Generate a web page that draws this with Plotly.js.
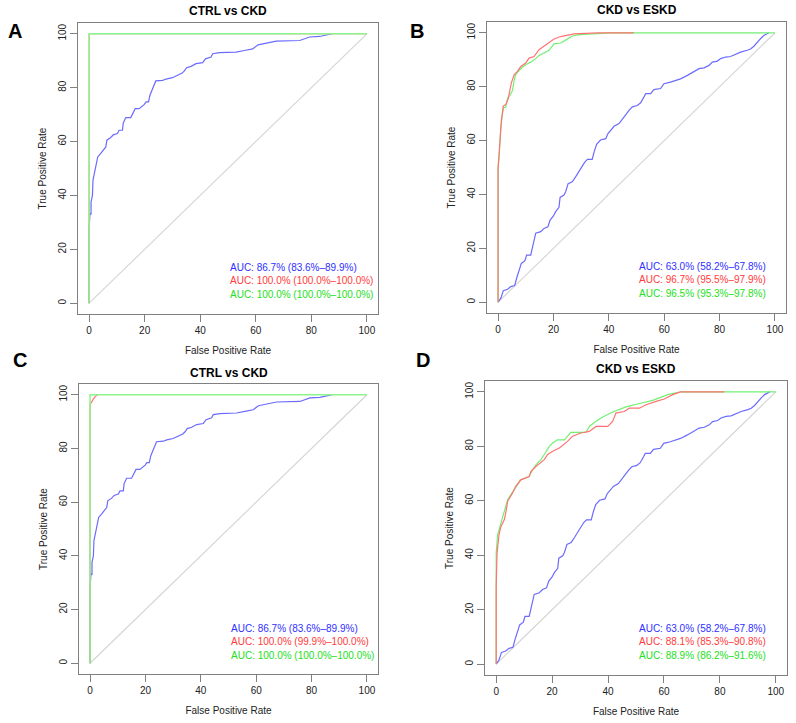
<!DOCTYPE html>
<html>
<head>
<meta charset="utf-8">
<script src="https://cdn.plot.ly/plotly-3.0.1.min.js"></script>
<style>html,body{margin:0;padding:0;background:#fff;}#chart{width:796px;height:723px;}</style>
</head>
<body>
<div id="chart"></div>
<script>
// ---------- DATA (in percent) ----------
const tickValues = [0, 20, 40, 60, 80, 100];
const tickLabels = ["0", "20", "40", "60", "80", "100"];
const panelTitles = ["CTRL vs CKD", "CKD vs ESKD", "CTRL vs CKD", "CKD vs ESKD"];
const panelLetters = ["A", "B", "C", "D"];
const xAxisTitle = "False Positive Rate";
const yAxisTitle = "True Positive Rate";

const diagX = [0, 100];
const diagY = [0, 100];

// CTRL vs CKD, blue model (panels A and C)
const fprCtrlBlue = [0,0,0.3,0.7,0.7,1.2,1.4,2,2.6,3.1,4.2,5,6,6.4,7.8,8.7,10.2,10.8,12,12.3,13.2,15,15.6,16.6,18,18.7,19.9,20.5,21.4,21.9,22.6,23.1,24,26.5,27.7,30,31.9,33.5,34.3,35.1,36.7,38.5,40.9,41.9,43.9,44.5,46.9,52.9,55.9,58.9,60.8,63.8,67.4,75.8,77.6,79.4,83,86,87.5];
const tprCtrlBlue = [0,27.4,33.3,33,37.6,40,45.7,48.8,50.6,54.3,55.6,56.8,58,60.5,61.5,62.5,63,64.2,64.2,66.9,68.9,68.9,70.4,72.2,72.2,72.8,73.8,74.7,74.7,77.2,79,80.5,82.5,82.7,83.2,83.7,84.6,85.4,86.2,87.4,87.9,88.9,89.3,90.7,91.4,92.6,93,93.2,93.8,94.4,95.9,96.5,97.3,97.5,98.1,98.8,99,99.6,100];
// CTRL vs CKD, red model (panel A)
const fprCtrlRedA = [0, 0, 100];
const tprCtrlRedA = [0, 100, 100];
// CTRL vs CKD, red model (panel C)
const fprCtrlRedC = [0, 0, 1, 1.9, 2.8];
const tprCtrlRedC = [0, 96.3, 98.1, 99.4, 100];
// CTRL vs CKD, green model (panels A and C)
const fprCtrlGreen = [0, 0, 100];
const tprCtrlGreen = [0, 100, 100];

// CKD vs ESKD, blue model (panels B and D)
const fprEskdBlue = [0,1,1.9,3.4,4.6,6,6.7,7.6,8.4,9.7,10.3,11.8,12.4,13,13.6,15.4,16.6,18,18.8,20,20.8,22,22.4,23.8,24.4,25.3,26.8,28,29.3,30.2,31.3,32.3,34,34.7,35.6,37,38.9,39.7,40.7,41.9,43.7,44.5,46,47.3,48.5,50.3,51.5,52.7,53.3,55.1,56.3,58.7,59.9,62.3,64.1,65.9,68.4,69.6,71.3,72.6,74.4,76.2,77.4,79.2,80.4,82.2,84,85.8,87.6,90,91.2,92.4,93.6,94.8,96,97.8];
const tprEskdBlue = [0,1.5,4.3,4.8,5.8,6.2,8.9,12,14.4,15.4,17.5,17.5,20,23,25.6,26.2,27.4,28,30.5,32,33.6,35.2,38.9,39.8,41,44,44.7,46.5,48.8,50.2,52,53,53,55.8,58.6,60.2,60.7,62.6,64,65.3,66.3,67.5,69.4,71.2,72.5,73,74,76.2,77.4,77.4,78.9,79.3,81.1,81.7,82.3,82.9,84.2,85,86,86.7,87,87.9,89.1,89.5,90.4,91,91.2,92,92.8,93.5,94,95,96.5,97.8,99,100];
// CKD vs ESKD, red model (panel B)
const fprEskdRedB = [0,0,0.3,0.7,1.2,1.9,2.8,3.6,4,4.8,5.8,7,8.2,10,11.2,13,14.8,16.6,18.4,20.2,22.6,25,27.4,36,49];
const tprEskdRedB = [0,50,54,60,67.5,72.8,73.4,75.3,77,81.4,84.4,85.7,87.5,88.8,90.6,91.2,93.7,95,96.5,97.7,98.6,99.2,99.6,100,100];
// CKD vs ESKD, green model (panel B)
const fprEskdGreenB = [0,0,0.3,0.5,0.6,1,1.6,1.9,2.8,3.4,4.3,5.2,5.8,6.4,7.6,8.8,10.6,11.8,13.6,14.8,16.6,18.4,20.2,22.6,23.8,25,26.8,29.3,34.7,40.7,100];
const tprEskdGreenB = [0,50.2,52.7,56.4,60,65,70,72,72.5,75.6,76.8,78.6,82.3,84.6,86,87.3,88.5,89.1,90.4,91.6,92.5,93.5,95.9,96.2,96.9,97.8,98.8,99.3,99.6,100,100];
// CKD vs ESKD, red model (panel D)
const fprEskdRedD = [0,0,0.3,1,1.7,2.9,3.5,4.1,5.8,7,8.8,11.8,12.4,14.2,17.2,18.4,20.2,22.6,25.5,27.3,30.3,33.3,35.7,39.9,41.7,42.8,45.8,47.6,51.2,53.6,57.2,60.1,63.1,66,81.6];
const tprEskdRedD = [0,28.4,40.6,47.5,50.6,53,56,59.8,62.8,65.3,67.7,68.9,70.7,72.6,75.1,77,78.2,79.4,81.8,83.7,84.9,85.5,87.3,87.3,89.2,92.2,92.8,94,94,95.3,96.5,97.4,99,100,100];
// CKD vs ESKD, green model (panel D)
const fprEskdGreenD = [0,0,0.5,1.7,2.9,4.1,6.4,8.8,11.8,13,14.2,16,17.2,19,20.2,21.9,24.4,26.7,32.1,33.3,35.7,38.1,41.7,46.4,52.4,56,61.3,66,100];
const tprEskdGreenD = [0,40.7,47.5,51.8,56.7,60.4,64,67.7,68.9,71.4,73.2,75.1,77,80,81.2,82.4,82.4,85.1,85.1,87.3,89.2,90.8,92.6,94.5,96,96.9,99,100,100];

// AUC labels
const aucTextA = ["AUC: 86.7% (83.6%–89.9%)", "AUC: 100.0% (100.0%–100.0%)", "AUC: 100.0% (100.0%–100.0%)"];
const aucTextB = ["AUC: 63.0% (58.2%–67.8%)", "AUC: 96.7% (95.5%–97.9%)", "AUC: 96.5% (95.3%–97.8%)"];
const aucTextC = ["AUC: 86.7% (83.6%–89.9%)", "AUC: 100.0% (99.9%–100.0%)", "AUC: 100.0% (100.0%–100.0%)"];
const aucTextD = ["AUC: 63.0% (58.2%–67.8%)", "AUC: 88.1% (85.3%–90.8%)", "AUC: 88.9% (86.2%–91.6%)"];

// ---------- STYLE ----------
const FONT = "Liberation Sans, Arial, Helvetica, sans-serif";
const lineBlue = "#6b6bff", lineRed = "#ff7373", lineGreen = "#72f072", lineGreenTop = "#8cf58c", lineDiag = "#d4d4d4";
const textBlue = "#2f2fff", textRed = "#ff3b3b", textGreen = "#22e022";
const W = 796, H = 723;

// panel plot boxes in pixels: [left, top, right, bottom]
const boxes = [[78, 23, 378, 314], [487, 22, 786, 313], [79, 384, 378, 674], [485, 381, 787, 675]];

function px2x(p) { return p / W; }
function px2y(p) { return 1 - p / H; }

function seg(x, y, color, ax, ay, w) {
  return {x: x, y: y, type: "scatter", mode: "lines", xaxis: ax, yaxis: ay,
          line: {color: color, width: w || 1.2}, hoverinfo: "skip", showlegend: false};
}

const panels = [
  {curves: [[fprCtrlBlue, tprCtrlBlue, lineBlue, 1.2], [fprCtrlRedA, tprCtrlRedA, lineRed, 1], [fprCtrlGreen, tprCtrlGreen, lineGreenTop, 1.5]], auc: aucTextA},
  {curves: [[fprEskdBlue, tprEskdBlue, lineBlue, 1.2], [fprEskdGreenB, tprEskdGreenB, lineGreen, 1.2], [fprEskdRedB, tprEskdRedB, lineRed, 1.2]], auc: aucTextB},
  {curves: [[fprCtrlBlue, tprCtrlBlue, lineBlue, 1.2], [fprCtrlRedC, tprCtrlRedC, lineRed, 1.2], [fprCtrlGreen, tprCtrlGreen, lineGreenTop, 1.5]], auc: aucTextC},
  {curves: [[fprEskdBlue, tprEskdBlue, lineBlue, 1.2], [fprEskdGreenD, tprEskdGreenD, lineGreen, 1.2], [fprEskdRedD, tprEskdRedD, lineRed, 1.2]], auc: aucTextD}
];

const data = [];
const layout = {
  width: W, height: H, margin: {l: 0, r: 0, t: 0, b: 0},
  paper_bgcolor: "#ffffff", plot_bgcolor: "#ffffff", showlegend: false,
  font: {family: FONT, size: 10, color: "#222"},
  annotations: []
};

const titleY = [11, 10, 373, 369];
const letterPos = [[15, 31], [417, 31], [20, 360], [423, 360]];
const aucPos = [[228, [267.3, 280.7, 294.3]], [637, [266.5, 279.8, 293]], [228.7, [628.5, 641.7, 655]], [636.5, [628, 641.7, 655]]];

panels.forEach((p, i) => {
  const n = i + 1;
  const ax = n === 1 ? "x" : "x" + n;
  const ay = n === 1 ? "y" : "y" + n;
  const b = boxes[i];
  data.push(seg(diagX, diagY, lineDiag, ax, ay, 1.1));
  p.curves.forEach(c => data.push(seg(c[0], c[1], c[2], ax, ay, c[3])));

  const common = {
    range: [-4, 104], showline: true, mirror: true, linecolor: "#808080", linewidth: 1,
    ticks: "outside", ticklen: 7, tickcolor: "#808080", tickwidth: 1,
    tickvals: tickValues, ticktext: tickLabels, showgrid: false, zeroline: false,
    tickfont: {family: FONT, size: 10, color: "#222"}, automargin: false, fixedrange: true
  };
  layout[n === 1 ? "xaxis" : "xaxis" + n] = Object.assign({}, common, {
    domain: [px2x(b[0]), px2x(b[2])], anchor: ay,
    title: {text: xAxisTitle, font: {family: FONT, size: 10, color: "#222"}, standoff: 11}
  });
  layout[n === 1 ? "yaxis" : "yaxis" + n] = Object.assign({}, common, {
    domain: [px2y(b[3]), px2y(b[1])], anchor: ax, tickangle: -90,
    title: {text: yAxisTitle, font: {family: FONT, size: 10, color: "#222"}, standoff: 8}
  });

  layout.annotations.push({
    text: "<b>" + panelTitles[i] + "</b>", xref: "paper", yref: "paper",
    x: px2x((b[0] + b[2]) / 2), y: px2y(titleY[i]), xanchor: "center", yanchor: "middle",
    showarrow: false, font: {family: FONT, size: 12, color: "#000"}
  });
  layout.annotations.push({
    text: "<b>" + panelLetters[i] + "</b>", xref: "paper", yref: "paper",
    x: px2x(letterPos[i][0]), y: px2y(letterPos[i][1]), xanchor: "center", yanchor: "middle",
    showarrow: false, font: {family: FONT, size: 20, color: "#000"}
  });
  const cols = [textBlue, textRed, textGreen];
  p.auc.forEach((t, k) => {
    layout.annotations.push({
      text: t, xref: "paper", yref: "paper",
      x: px2x(aucPos[i][0]), y: px2y(aucPos[i][1][k]), xanchor: "left", yanchor: "middle",
      showarrow: false, font: {family: FONT, size: 10, color: cols[k]}
    });
  });
});

Plotly.newPlot("chart", data, layout, {staticPlot: true, displayModeBar: false});
</script>
</body>
</html>
